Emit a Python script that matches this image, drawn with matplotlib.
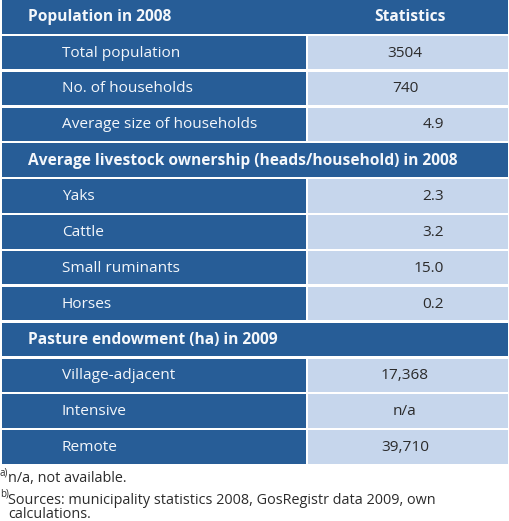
import matplotlib.pyplot as plt
from matplotlib.patches import Rectangle

plt.rcParams['font.family'] = ['Open Sans', 'DejaVu Sans']

# table content
header_right = "Statistics"
sections = ["Population in 2008",
            "Average livestock ownership (heads/household) in 2008",
            "Pasture endowment (ha) in 2009"]
pop_labels = ["Total population", "No. of households", "Average size of households"]
pop_values = ["3504", "740", "4.9"]
livestock_labels = ["Yaks", "Cattle", "Small ruminants", "Horses"]
livestock_values = ["2.3", "3.2", "15.0", "0.2"]
pasture_labels = ["Village-adjacent", "Intensive", "Remote"]
pasture_values = ["17,368", "n/a", "39,710"]
footnote_marks = ["a)", "b)"]
footnote_lines = [["n/a, not available."],
                  ["Sources: municipality statistics 2008, GosRegistr data 2009, own",
                   "calculations."]]

dark = "#275d97"
light = "#c6d6ec"
txt_light = "#f4f7fb"
txt_dark = "#2b2b2b"

fig = plt.figure(figsize=(5.10, 5.21), dpi=100)
ax = fig.add_axes([0, 0, 1, 1])
ax.set_xlim(0, 510)
ax.set_ylim(521, 0)
ax.axis('off')

x0, x1, xs = 2, 508, 306   # table edges and column split
pitch, h = 35.85, 33.5

blocks = [(sections[0], pop_labels, pop_values),
          (sections[1], livestock_labels, livestock_values),
          (sections[2], pasture_labels, pasture_values)]

row = 0
for bi, (title, labels, values) in enumerate(blocks):
    top = row * pitch
    ax.add_patch(Rectangle((x0, top), x1 - x0, h, color=dark, lw=0))
    ax.text(28, top + h / 2 + 0.5, title, color=txt_light, fontsize=11.2,
            fontweight='bold', va='center', ha='left')
    if bi == 0:
        ax.text(410, top + h / 2 + 0.5, header_right, color=txt_light, fontsize=11.2,
                fontweight='bold', va='center', ha='center')
    row += 1
    for lab, val in zip(labels, values):
        top = row * pitch
        ax.add_patch(Rectangle((x0, top), xs - x0, h, color=dark, lw=0))
        ax.add_patch(Rectangle((xs + 2, top), x1 - xs - 2, h, color=light, lw=0))
        ax.text(62, top + h / 2 + 0.5, lab, color=txt_light, fontsize=11.1,
                va='center', ha='left')
        if '.' in val:
            ax.text(444, top + h / 2 + 0.5, val, color=txt_dark, fontsize=11.1,
                    va='center', ha='right')
        else:
            ax.text(405, top + h / 2 + 0.5, val, color=txt_dark, fontsize=11.1,
                    va='center', ha='center')
        row += 1

# footnotes, one text per line
fy = 482.5
for mark, lines in zip(footnote_marks, footnote_lines):
    ax.text(0, fy - 7, mark, color=txt_dark, fontsize=7, va='baseline', ha='left')
    for line in lines:
        ax.text(8, fy, line, color=txt_dark, fontsize=10.4, va='baseline', ha='left')
        fy += 15
    fy += 6

fig.savefig("out.png", dpi=100)
